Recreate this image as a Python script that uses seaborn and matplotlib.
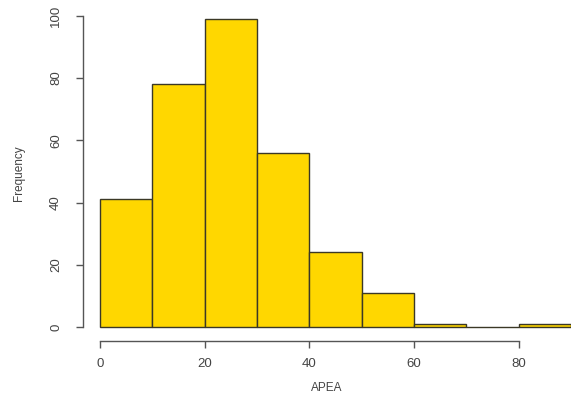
import matplotlib
matplotlib.use("Agg")
import matplotlib.pyplot as plt
import seaborn as sns
import numpy as np

bin_edges = [0, 10, 20, 30, 40, 50, 60, 70, 80, 90]
counts = [41, 78, 99, 56, 24, 11, 1, 0, 1]
x_ticks = [0, 20, 40, 60, 80]
y_ticks = [0, 20, 40, 60, 80, 100]

mids = [(a + b) / 2 for a, b in zip(bin_edges[:-1], bin_edges[1:])]

sns.set_style("white")
plt.rcParams['font.family'] = ['Liberation Sans', 'DejaVu Sans']

fig = plt.figure(figsize=(5.71, 3.98), dpi=100)
ax = fig.add_axes([83/571, (398-341)/398, (571-83)/571, (341-5)/398])

sns.histplot(x=mids, weights=counts, bins=bin_edges, ax=ax,
             color="#FFD700", alpha=1.0, edgecolor="#3b3826", linewidth=1.0)

ax.set_xlim(-3.24, 90)
ax.set_ylim(-4.5, 103.5)

for s in ["top", "right"]:
    ax.spines[s].set_visible(False)
ax.spines["left"].set_bounds(0, 100)
ax.spines["bottom"].set_bounds(0, 80)
for s in ["left", "bottom"]:
    ax.spines[s].set_color("#555555")
    ax.spines[s].set_linewidth(1.0)

ax.set_xticks(x_ticks)
ax.set_yticks(y_ticks)
ax.set_yticklabels([str(v) for v in y_ticks], rotation=90, va="center")
ax.tick_params(axis="both", direction="out", length=5, width=1.0, color="#555555",
               labelsize=9.5, labelcolor="#444444", bottom=True, left=True)
ax.tick_params(axis="y", pad=10)
ax.tick_params(axis="x", pad=7)

ax.set_xlabel("APEA", fontsize=8.5, color="#444444", labelpad=9)
ax.set_ylabel("Frequency", fontsize=8.5, color="#444444", labelpad=18)
ax.grid(False)

fig.savefig("out.png", dpi=100)
